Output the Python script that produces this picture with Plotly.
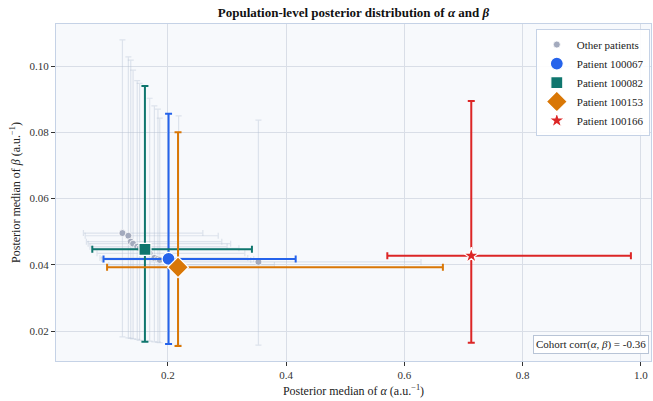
import plotly.graph_objects as go

# Other patients: posterior medians and 95% intervals
other_alpha = [0.123, 0.133, 0.137, 0.141, 0.148, 0.152, 0.169, 0.177, 0.183, 0.186, 0.218, 0.353]
other_beta = [0.0496, 0.0488, 0.0470, 0.0464, 0.0455, 0.0450, 0.0435, 0.0421, 0.0418, 0.0415, 0.0400, 0.0409]
other_alpha_lo = [0.057, 0.060, 0.062, 0.065, 0.068, 0.072, 0.080, 0.085, 0.088, 0.090, 0.100, 0.170]
other_alpha_hi = [0.259, 0.285, 0.291, 0.306, 0.300, 0.320, 0.330, 0.335, 0.345, 0.340, 0.380, 0.628]
other_beta_lo = [0.0183, 0.0180, 0.0178, 0.0177, 0.0175, 0.0172, 0.0170, 0.0168, 0.0167, 0.0165, 0.0160, 0.0158]
other_beta_hi = [0.1079, 0.1028, 0.1018, 0.0988, 0.0956, 0.0948, 0.0903, 0.0880, 0.0870, 0.0843, 0.0850, 0.0837]

# Highlighted patients
patients = ["Patient 100067", "Patient 100082", "Patient 100153", "Patient 100166"]
pat_alpha = [0.201, 0.161, 0.217, 0.713]
pat_beta = [0.0418, 0.0447, 0.0393, 0.0428]
pat_alpha_lo = [0.091, 0.072, 0.097, 0.571]
pat_alpha_hi = [0.416, 0.342, 0.665, 0.983]
pat_beta_lo = [0.0161, 0.0168, 0.0155, 0.0165]
pat_beta_hi = [0.0856, 0.0940, 0.0800, 0.0895]
pat_colors = ["#2563eb", "#0f766e", "#d97706", "#dc2626"]
pat_symbols = ["circle", "square", "diamond", "star"]
pat_sizes = [13, 12, 16, 12]

corr_text = "Cohort corr(<i>α</i>, <i>β</i>) = -0.36"

SERIF = "Liberation Serif, Times New Roman, serif"

fig = go.Figure()

fig.add_trace(go.Scatter(
    x=other_alpha, y=other_beta, mode="markers", name="Other patients",
    marker=dict(color="#a3aabd", size=7, line=dict(color="white", width=0.8)),
    error_x=dict(type="data", symmetric=False,
                 array=[h - m for h, m in zip(other_alpha_hi, other_alpha)],
                 arrayminus=[m - l for m, l in zip(other_alpha, other_alpha_lo)],
                 color="rgba(180,192,210,0.38)", thickness=1.2, width=3),
    error_y=dict(type="data", symmetric=False,
                 array=[h - m for h, m in zip(other_beta_hi, other_beta)],
                 arrayminus=[m - l for m, l in zip(other_beta, other_beta_lo)],
                 color="rgba(180,192,210,0.38)", thickness=1.2, width=3),
))

for i, name in enumerate(patients):
    fig.add_trace(go.Scatter(
        x=[pat_alpha[i]], y=[pat_beta[i]], mode="markers", name=name,
        marker=dict(color=pat_colors[i], symbol=pat_symbols[i], size=pat_sizes[i],
                    line=dict(color="white", width=1.2)),
        error_x=dict(type="data", symmetric=False,
                     array=[pat_alpha_hi[i] - pat_alpha[i]],
                     arrayminus=[pat_alpha[i] - pat_alpha_lo[i]],
                     color=pat_colors[i], thickness=2, width=3.5),
        error_y=dict(type="data", symmetric=False,
                     array=[pat_beta_hi[i] - pat_beta[i]],
                     arrayminus=[pat_beta[i] - pat_beta_lo[i]],
                     color=pat_colors[i], thickness=2, width=3.5),
    ))

fig.add_annotation(
    text=corr_text, xref="paper", yref="paper", x=0.996, y=0.02,
    xanchor="right", yanchor="bottom", showarrow=False,
    font=dict(size=11, color="#222"),
    bgcolor="rgba(255,255,255,0.9)", bordercolor="#b8c4d6", borderwidth=1, borderpad=2,
)

axis_common = dict(
    showgrid=True, gridcolor="#d9dee7", gridwidth=1,
    showline=True, linecolor="#c5d2e6", linewidth=1, mirror=True,
    ticks="outside", ticklen=4, tickcolor="#333", zeroline=False,
    tickfont=dict(size=11, color="#333"),
)

fig.update_layout(
    width=653, height=401,
    margin=dict(l=56, r=2, t=24, b=40),
    paper_bgcolor="white", plot_bgcolor="#f7f9fc",
    font=dict(family=SERIF, size=12, color="#222"),
    title=dict(text="<b>Population-level posterior distribution of <i>α</i> and <i>β</i></b>",
               x=0.5, xref="paper", y=0.97, yref="container", yanchor="middle",
               font=dict(size=13, color="#111")),
    xaxis=dict(range=[0.0106, 1.017], tickvals=[0.2, 0.4, 0.6, 0.8, 1.0],
               ticktext=["0.2", "0.4", "0.6", "0.8", "1.0"],
               title=dict(text="Posterior median of <i>α</i> (a.u.<sup>−1</sup>)", standoff=6,
                          font=dict(size=12)),
               **axis_common),
    yaxis=dict(range=[0.011, 0.1127], tickvals=[0.02, 0.04, 0.06, 0.08, 0.10],
               ticktext=["0.02", "0.04", "0.06", "0.08", "0.10"],
               title=dict(text="Posterior median of <i>β</i> (a.u.<sup>−1</sup>)", standoff=6,
                          font=dict(size=12)),
               **axis_common),
    legend=dict(x=0.998, y=0.985, xanchor="right", yanchor="top",
                bgcolor="rgba(255,255,255,0.9)", bordercolor="#c5d2e6", borderwidth=1,
                font=dict(size=11, color="#222"),
                itemsizing="trace", tracegroupgap=0, itemwidth=30),
    showlegend=True,
)

fig.write_html("out.html")
